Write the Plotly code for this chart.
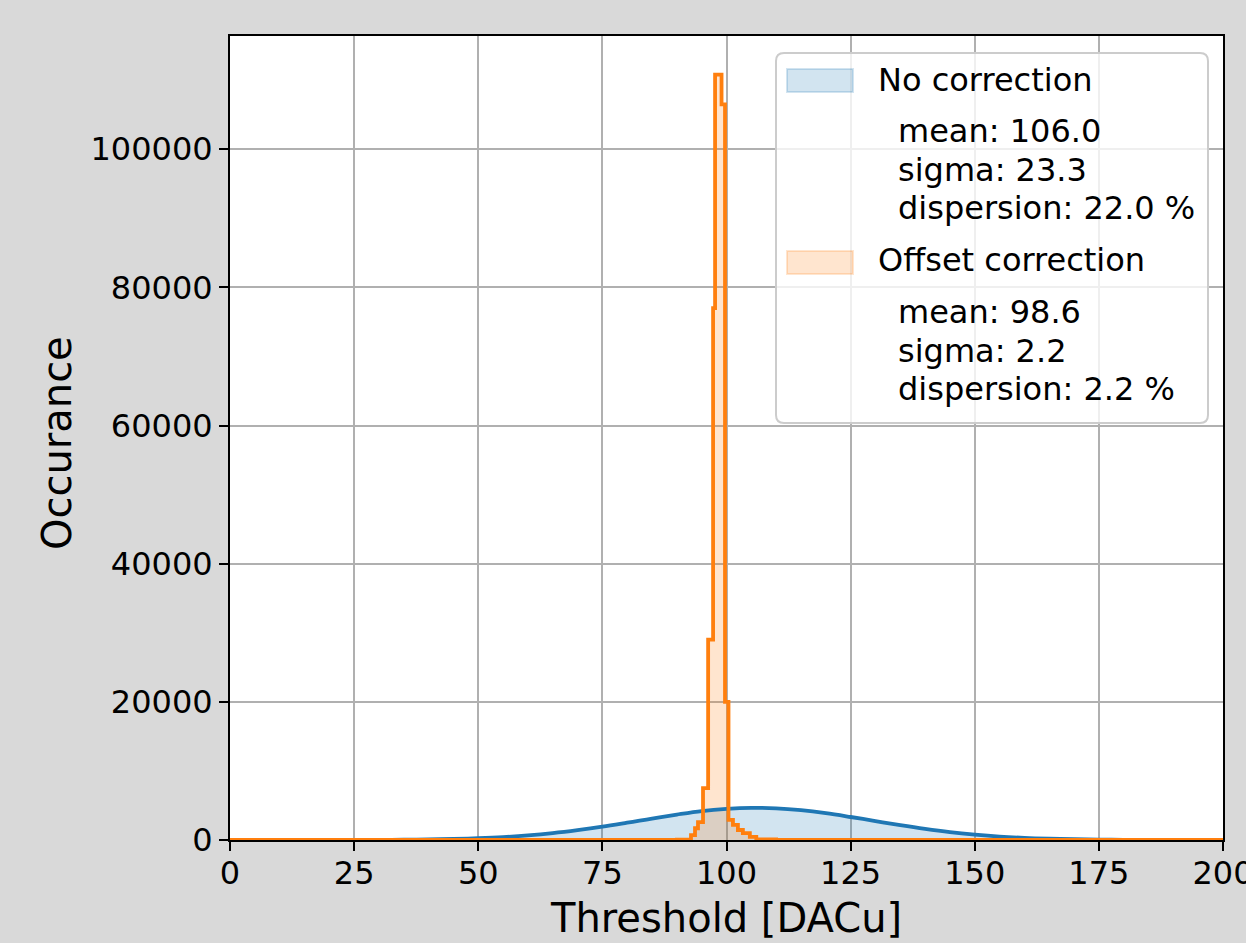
import plotly.graph_objects as go

# ---------------- data ----------------
series_names = ["No correction", "Offset correction"]
stats_no_corr = ["mean: 106.0", "sigma: 23.3", "dispersion: 22.0 %"]
stats_offset = ["mean: 98.6", "sigma: 2.2", "dispersion: 2.2 %"]

# No correction: threshold positions (DACu) and occurrences
blue_x = [0, 5, 10, 15, 20, 25, 30, 35, 40, 45, 50, 55, 60, 65, 70, 75, 80, 85, 90, 95,
          100, 105, 110, 115, 120, 125, 130, 135, 140, 145, 150, 155, 160, 165, 170,
          175, 180, 185, 190, 195, 200]
blue_counts = [0, 0, 0, 2, 5, 10, 22, 45, 85, 150, 260, 420, 660, 990, 1420, 1920, 2500,
               3100, 3680, 4190, 4500, 4645, 4580, 4310, 3880, 3330, 2740, 2140, 1600,
               1140, 780, 500, 310, 190, 110, 55, 30, 15, 8, 3, 1]

# Offset correction: histogram bin edges (DACu) and counts
orange_edges = [0, 90.0, 92.85, 93.66, 94.26, 95.27, 96.3, 97.3, 97.7, 99.0, 99.7,
                100.4, 101.3, 102.3, 103.3, 104.7, 106.0, 110.0, 200]
orange_counts = [0, 50, 700, 1700, 2600, 7500, 29000, 77000, 110800, 106500, 20000,
                 2900, 2200, 1450, 1000, 450, 80, 0]

x_ticks = [0, 25, 50, 75, 100, 125, 150, 175, 200]
y_ticks = [0, 20000, 40000, 60000, 80000, 100000]
x_range = [0, 200]
y_range = [0, 116400]

# ---------------- style ----------------
BLUE = "#1f77b4"
ORANGE = "#ff7f0e"
BLUE_FILL = "rgba(31,119,180,0.2)"
ORANGE_FILL = "rgba(255,127,14,0.2)"
FONT = "DejaVu Sans"

W, H = 1246, 943
L, R, T, B = 230, 23, 36, 103
PW, PH = W - L - R, H - T - B


def px(x):
    return (x - L) / PW


def py(y):
    return (H - B - y) / PH


ox = list(orange_edges)
oy = list(orange_counts) + [orange_counts[-1]]

fig = go.Figure()
fig.add_trace(go.Scatter(x=blue_x, y=blue_counts, mode="lines", line=dict(width=0, shape="spline"),
                         fill="tozeroy", fillcolor=BLUE_FILL, showlegend=False, hoverinfo="skip"))
fig.add_trace(go.Scatter(x=ox, y=oy, mode="lines", line=dict(width=0, shape="hv"),
                         fill="tozeroy", fillcolor=ORANGE_FILL, showlegend=False, hoverinfo="skip"))
fig.add_trace(go.Scatter(x=blue_x, y=blue_counts, mode="lines", name=series_names[0],
                         line=dict(color=BLUE, width=3.8, shape="spline"), showlegend=False))
fig.add_trace(go.Scatter(x=ox, y=oy, mode="lines", name=series_names[1],
                         line=dict(color=ORANGE, width=3.8, shape="hv"), showlegend=False))

axis_common = dict(showgrid=True, gridcolor="#b0b0b0", gridwidth=1.6,
                   showline=True, linecolor="black", linewidth=2, mirror=True,
                   ticks="outside", ticklen=9, tickwidth=2, tickcolor="black",
                   tickfont=dict(family=FONT, size=32, color="black"), zeroline=False,
                   ticklabeloverflow="allow", automargin=False)

fig.update_layout(
    width=W, height=H,
    margin=dict(l=L, r=R, t=T, b=B, autoexpand=False),
    paper_bgcolor="#d9d9d9", plot_bgcolor="white",
    xaxis=dict(range=x_range, tickvals=x_ticks, ticktext=[str(v) for v in x_ticks],
               ticklabelstandoff=-5, **axis_common),
    yaxis=dict(range=y_range, tickvals=y_ticks, ticktext=[str(v) for v in y_ticks], **axis_common),
    showlegend=False,
)

ann = []
ann.append(dict(text="Threshold [DACu]", x=px(726), xref="paper", y=py(918), yref="paper",
                xanchor="center", yanchor="middle", showarrow=False,
                font=dict(family=FONT, size=40, color="black")))
ann.append(dict(text="Occurance", x=px(57), xref="paper", y=py(443), yref="paper",
                xanchor="center", yanchor="middle", textangle=-90, showarrow=False,
                font=dict(family=FONT, size=40, color="black")))

# legend box (rounded)
x0, x1, y0, y1, r = px(776), px(1208), py(53), py(423), 8
rx, ry = r / PW, r / PH
path = (f"M {x0+rx},{y0} L {x1-rx},{y0} Q {x1},{y0} {x1},{y0-ry} "
        f"L {x1},{y1+ry} Q {x1},{y1} {x1-rx},{y1} L {x0+rx},{y1} Q {x0},{y1} {x0},{y1+ry} "
        f"L {x0},{y0-ry} Q {x0},{y0} {x0+rx},{y0} Z")
shapes = [dict(type="path", path=path, xref="paper", yref="paper",
               fillcolor="rgba(255,255,255,0.8)", line=dict(color="#cccccc", width=2), layer="above")]
for (ytop, ybot, fc, lc) in [(69, 92, BLUE_FILL, "rgba(31,119,180,0.2)"),
                              (251, 274, ORANGE_FILL, "rgba(255,127,14,0.2)")]:
    shapes.append(dict(type="rect", xref="paper", yref="paper", x0=px(787), x1=px(853),
                       y0=py(ybot), y1=py(ytop), fillcolor=fc, line=dict(color=lc, width=2),
                       layer="above"))

legend_lines = [(series_names[0], 876, 80)]
legend_lines += [(t, 896, yy) for t, yy in zip(stats_no_corr, [131, 170, 208])]
legend_lines += [(series_names[1], 876, 260)]
legend_lines += [(t, 896, yy) for t, yy in zip(stats_offset, [312, 351, 389])]
for t, xx, yy in legend_lines:
    ann.append(dict(text=t, x=px(xx), xref="paper", y=py(yy), yref="paper",
                    xanchor="left", yanchor="middle", showarrow=False,
                    font=dict(family=FONT, size=32, color="black")))

fig.update_layout(annotations=ann, shapes=shapes)
fig.write_html("out.html")
